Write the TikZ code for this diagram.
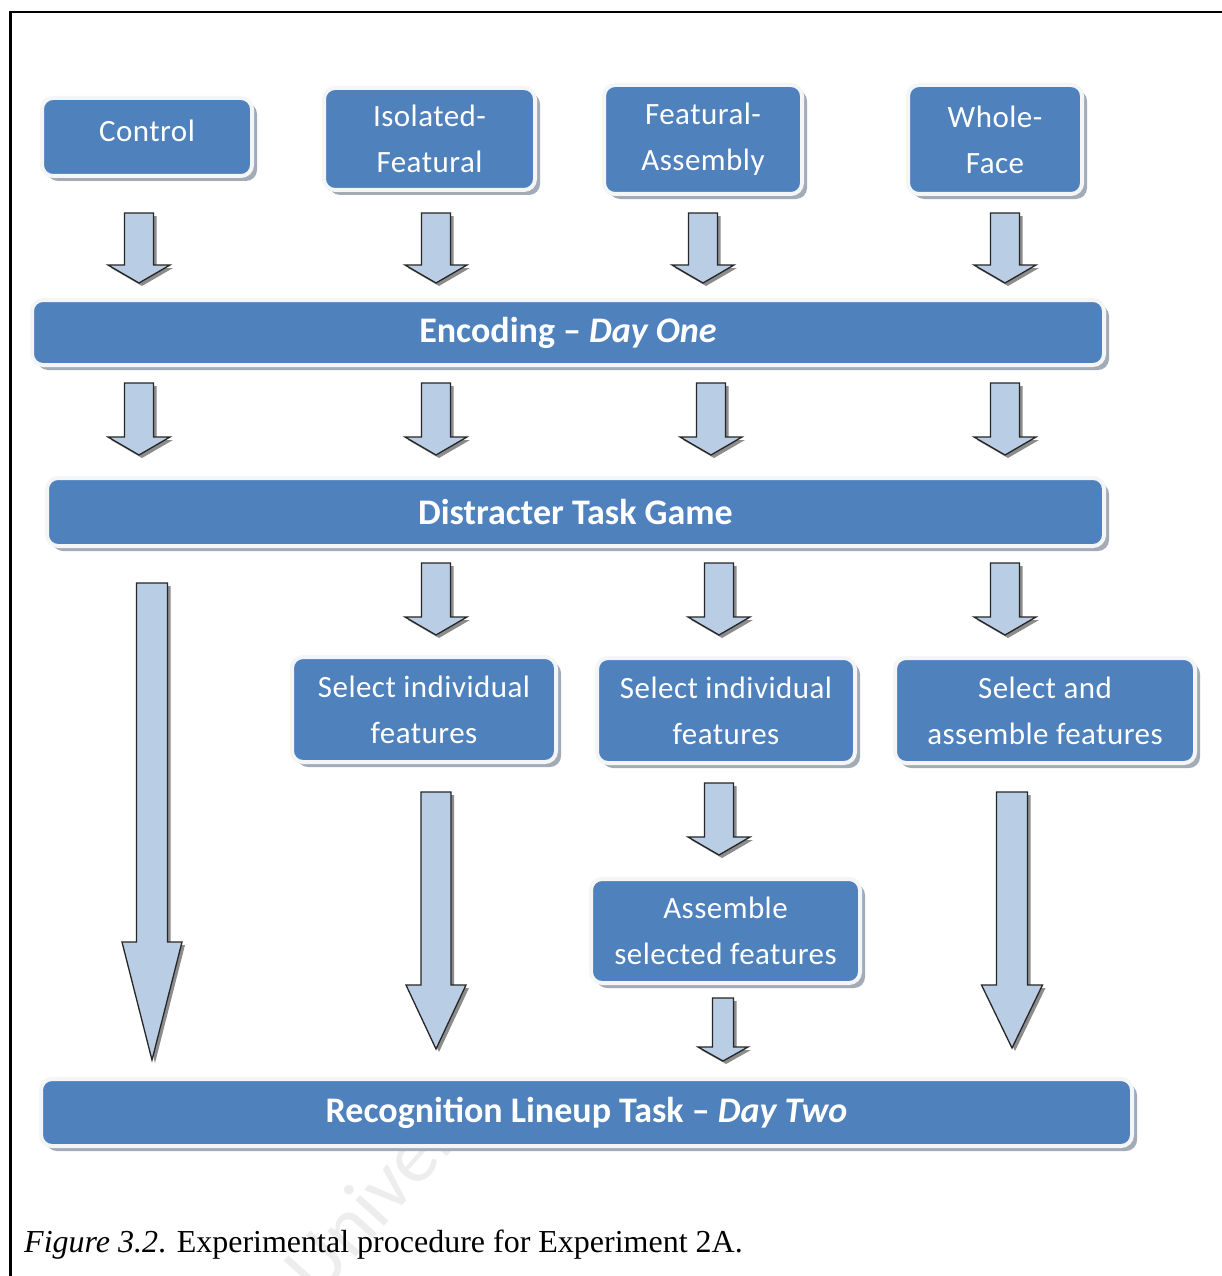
\documentclass[tikz,border=0pt]{standalone}
\usepackage{fontspec}
\setmainfont{Liberation Serif}
\newfontfamily\carlito{Carlito}[Ligatures=TeX]
\newfontfamily\carlitosp{Carlito}[Ligatures=TeX, LetterSpace=1.5]
\usetikzlibrary{shadows}
\definecolor{boxblue}{HTML}{4F81BD}
\definecolor{arrowblue}{HTML}{B9CDE5}
\definecolor{shadowgray}{HTML}{A3ABB6}
\definecolor{rimwhite}{HTML}{F4F5F7}
\tikzset{
  box/.style={rounded corners=11pt, fill=boxblue, draw=rimwhite, line width=4pt,
    text=white, align=center, inner sep=0pt,
    font=\carlitosp\fontsize{31}{46}\selectfont,
    drop shadow={shadow xshift=5pt, shadow yshift=-5pt, fill=shadowgray, opacity=1}},
  bar/.style={box, font=\carlito\bfseries\fontsize{36}{40}\selectfont},
  barrow/.style={fill=arrowblue, draw=black!85, line width=1.3pt, line join=miter,
    drop shadow={shadow xshift=3pt, shadow yshift=-3pt, fill=black!60, opacity=0.75}},
}
% #1 style, #2 name, #3 x1, #4 y1, #5 x2, #6 y2, #7 text
\newcommand\mybox[7]{%
  \node[#1, minimum width={#5pt-#3pt-4pt}, minimum height={#6pt-#4pt-4pt}]
    (#2) at ({(#3+#5)/2},{(#4+#6)/2}) {#7};}
% #1 cx, #2 top, #3 head start, #4 tip, #5 shaft half width, #6 head half width
\newcommand\blkarrow[6]{%
  \draw[barrow] ({#1-#5},#2) -- ({#1+#5},#2) -- ({#1+#5},#3) -- ({#1+#6},#3)
    -- (#1,#4) -- ({#1-#6},#3) -- ({#1-#5},#3) -- cycle;}
\begin{document}
\begin{tikzpicture}[x=1pt,y=-1pt]
\useasboundingbox (0,0) rectangle (1222,1276);
\fill[white] (0,0) rectangle (1222,1276);
% watermark
\begin{scope}
  \clip (0,1150) rectangle (1222,1276);
  \node[rotate=48, text=black!7, font=\carlito\fontsize{80}{80}\selectfont,
    anchor=base west, inner sep=0pt] (wm) at (318,1300) {University};
\end{scope}
% frame
\draw[line width=2.6pt] (10.5,1276) -- (10.5,12) -- (1222,12);
% boxes
\mybox{box}{ctrl}{40}{96}{254}{178}{\raisebox{12pt}{Control}}
\mybox{box}{iso}{322}{86}{537}{192}{\raisebox{-3pt}{\shortstack{Isolated-}}\\\raisebox{-3pt}{Featural}}
\mybox{box}{feat}{602}{83}{804}{196}{Featural-\\Assembly}
\mybox{box}{whole}{906}{83}{1084}{196}{Whole-\\Face}
\mybox{bar}{enc}{30}{298}{1106}{367}{\raisebox{-4pt}{Encoding \textendash{} \textit{Day One}}}
\mybox{bar}{dist}{45}{476}{1106}{548}{Distracter Task Game}
\mybox{box}{sel1}{290}{655}{558}{764}{Select individual\\features}
\mybox{box}{sel2}{595}{656}{857}{765}{Select individual\\features}
\mybox{box}{selas}{893}{656}{1197}{765}{Select and\\assemble features}
\mybox{box}{asm}{589}{877}{862}{985}{Assemble\\selected features}
\mybox{bar}{rec}{39}{1077}{1134}{1148}{\raisebox{-3pt}{Recognition Lineup Task \textendash{} \textit{Day Two}}}
% row 1 arrows
\blkarrow{139}{213}{265}{283}{14.5}{31}
\blkarrow{436}{213}{265}{283}{14.5}{31}
\blkarrow{703}{213}{265}{283}{14.5}{31}
\blkarrow{1005}{213}{265}{283}{14.5}{31}
% row 2 arrows
\blkarrow{139}{383}{437}{455}{14.5}{31}
\blkarrow{436}{383}{437}{455}{14.5}{31}
\blkarrow{711}{383}{437}{455}{14.5}{31}
\blkarrow{1005}{383}{437}{455}{14.5}{31}
% row 3 arrows
\blkarrow{436}{563}{617}{635}{14.5}{31}
\blkarrow{719}{563}{617}{635}{14.5}{31}
\blkarrow{1005}{563}{617}{635}{14.5}{31}
% row 4 arrow
\blkarrow{719}{783}{837}{855}{14.5}{31}
% row 5 arrow
\blkarrow{723}{998}{1047}{1061}{10.5}{25}
% long arrows
\blkarrow{152}{583}{942}{1060}{15.5}{30}
\blkarrow{436}{792}{985}{1049}{15}{30}
\blkarrow{1012}{792}{985}{1048}{15.5}{30.5}
% caption
\node[anchor=base west, inner sep=0pt, font=\fontsize{32}{36}\selectfont] (cap)
  at (24,1252) {\textit{Figure 3.2}. Experimental procedure for Experiment 2A.};
\end{tikzpicture}
\end{document}
